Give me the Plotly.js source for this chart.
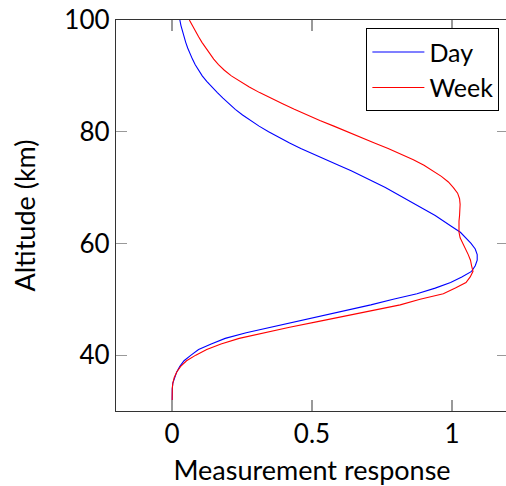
<!DOCTYPE html>
<html>
<head>
<meta charset="utf-8">
<script src="https://cdn.plot.ly/plotly-3.0.1.min.js"></script>
<style>
html,body{margin:0;padding:0;overflow:hidden;background:#fff;}
#chart{width:508px;height:486px;}
</style>
</head>
<body>
<div id="chart"></div>
<script>
const altitude = [30,31,32,33,34,35,36,37,38,39,40,41,42,43,44,45,46,47,48,49,50,51,52,53,54,55,56,57,58,59,60,61,62,63,64,65,66,67,68,69,70,71,72,73,74,75,76,77,78,79,80,81,82,83,84,85,86,87,88,89,90,91,92,93,94,95,96,97,98,99,100];
const day = [0,0,0,0,0.001,0.003,0.009,0.017,0.028,0.043,0.068,0.095,0.14,0.19,0.265,0.355,0.445,0.535,0.625,0.71,0.79,0.875,0.94,0.995,1.035,1.07,1.083,1.09,1.09,1.083,1.068,1.05,1.03,1.0,0.97,0.94,0.905,0.87,0.835,0.80,0.762,0.722,0.683,0.64,0.595,0.55,0.503,0.46,0.42,0.381,0.345,0.311,0.28,0.252,0.226,0.203,0.182,0.162,0.142,0.124,0.108,0.095,0.083,0.073,0.064,0.056,0.049,0.043,0.037,0.032,0.028];
const week = [0,0,0,0,0.001,0.003,0.008,0.017,0.031,0.052,0.085,0.124,0.175,0.24,0.325,0.42,0.52,0.62,0.72,0.815,0.886,0.969,1.012,1.05,1.065,1.075,1.07,1.066,1.058,1.049,1.038,1.029,1.025,1.024,1.025,1.027,1.029,1.029,1.027,1.02,1.005,0.987,0.962,0.933,0.90,0.862,0.82,0.772,0.723,0.676,0.63,0.578,0.528,0.481,0.437,0.395,0.353,0.313,0.276,0.242,0.212,0.187,0.166,0.149,0.134,0.12,0.107,0.095,0.084,0.073,0.062];
const seriesNames = ['Day','Week'];
const xTicks = [0,0.5,1];
const xTickText = ['0','0.5','1'];
const yTicks = [40,60,80,100];
const yTickText = ['40','60','80','100'];

const font = 'Lato, "Open Sans", sans-serif';
const traces = [
  {x: day, y: altitude, name: seriesNames[0], mode:'lines', line:{color:'#0000ff', width:1.1}},
  {x: week, y: altitude, name: seriesNames[1], mode:'lines', line:{color:'#ff0000', width:1.1}}
];
const axisCommon = {
  showline:true, linecolor:'#333', linewidth:1.2, mirror:'ticks',
  ticks:'inside', ticklen:11, tickcolor:'#999', tickwidth:1.2,
  showgrid:false, zeroline:false,
  tickfont:{family:font, size:26, color:'#000'}
};
const layout = {
  width:508, height:486,
  margin:{l:116, r:0, t:20, b:75},
  paper_bgcolor:'#fff', plot_bgcolor:'#fff',
  showlegend:true,
  legend:{x:0.978, y:0.979, xanchor:'right', yanchor:'top',
    bordercolor:'#000', borderwidth:1, bgcolor:'#fff',
    font:{family:font, size:25, color:'#000'}, itemwidth:52, tracegroupgap:0},
  xaxis:Object.assign({}, axisCommon, {
    range:[-0.2,1.2], tickvals:xTicks, ticktext:xTickText,
    title:{text:'Measurement response', font:{family:font, size:27, color:'#000'}, standoff:12}
  }),
  yaxis:Object.assign({}, axisCommon, {
    range:[30,100], tickvals:yTicks, ticktext:yTickText,
    title:{text:'Altitude (km)', font:{family:font, size:27, color:'#000'}, standoff:20}
  })
};
Plotly.newPlot('chart', traces, layout, {staticPlot:true, displayModeBar:false});
</script>
</body>
</html>
